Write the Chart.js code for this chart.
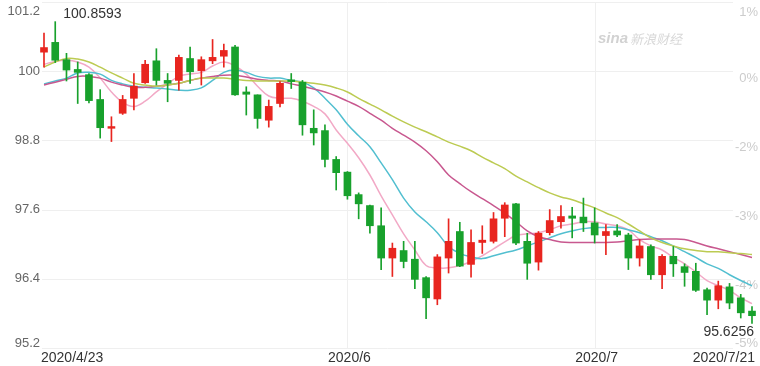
<!DOCTYPE html>
<html>
<head>
<meta charset="utf-8">
<script src="https://cdn.jsdelivr.net/npm/chart.js@4.4.1/dist/chart.umd.min.js"></script>
<style>
  html, body { margin: 0; padding: 0; background: #fff; }
</style>
</head>
<body>
<canvas id="kline" width="760" height="366"></canvas>
<script>
// trading days shown on the chart
const dates = [
  "2020/4/23", "2020/4/24", "2020/4/27", "2020/4/28", "2020/4/29", "2020/4/30",
  "2020/5/1", "2020/5/4", "2020/5/5", "2020/5/6", "2020/5/7", "2020/5/8",
  "2020/5/11", "2020/5/12", "2020/5/13", "2020/5/14", "2020/5/15",
  "2020/5/18", "2020/5/19", "2020/5/20", "2020/5/21", "2020/5/22",
  "2020/5/25", "2020/5/26", "2020/5/27", "2020/5/28", "2020/5/29",
  "2020/6/1", "2020/6/2", "2020/6/3", "2020/6/4", "2020/6/5",
  "2020/6/8", "2020/6/9", "2020/6/10", "2020/6/11", "2020/6/12",
  "2020/6/15", "2020/6/16", "2020/6/17", "2020/6/18", "2020/6/19",
  "2020/6/22", "2020/6/23", "2020/6/24", "2020/6/25", "2020/6/26",
  "2020/6/29", "2020/6/30",
  "2020/7/1", "2020/7/2", "2020/7/3", "2020/7/6", "2020/7/7", "2020/7/8",
  "2020/7/9", "2020/7/10", "2020/7/13", "2020/7/14", "2020/7/15",
  "2020/7/16", "2020/7/17", "2020/7/20", "2020/7/21"
];

const opens = [
  100.33, 100.50, 100.20, 100.03, 99.94, 99.51, 99.01, 99.27, 99.53, 99.80,
  100.18, 99.84, 99.84, 100.22, 100.01, 100.18, 100.26, 100.42, 99.64, 99.59,
  99.15, 99.44, 99.85, 99.81, 99.01, 98.97, 98.47, 98.25, 97.86, 97.67,
  97.32, 96.76, 96.89, 96.74, 96.42, 96.05, 96.76, 97.22, 96.65, 97.03,
  97.05, 97.45, 97.70, 97.05, 96.69, 97.20, 97.39, 97.49, 97.47, 97.37,
  97.15, 97.23, 97.16, 96.76, 96.96, 96.47, 96.79, 96.61, 96.53, 96.21,
  96.03, 96.26, 96.07, 95.84
];
const highs = [
  100.66, 100.8593, 100.31, 100.16, 99.96, 99.68, 99.21, 99.58, 99.96, 100.19,
  100.39, 99.96, 100.28, 100.42, 100.25, 100.55, 100.47, 100.45, 99.73, 99.59,
  99.50, 99.82, 99.96, 99.84, 99.33, 99.07, 98.52, 98.26, 97.89, 97.68,
  97.63, 97.02, 97.05, 97.05, 96.44, 96.82, 97.44, 97.38, 97.25, 97.32,
  97.55, 97.72, 97.71, 97.19, 97.22, 97.60, 97.67, 97.64, 97.80, 97.63,
  97.34, 97.34, 97.19, 97.08, 96.99, 96.82, 96.96, 96.66, 96.67, 96.24,
  96.36, 96.32, 96.13, 95.92
];
const lows = [
  100.07, 100.15, 99.83, 99.44, 99.45, 98.84, 98.78, 99.25, 99.33, 99.79,
  99.76, 99.47, 99.67, 99.79, 99.76, 100.13, 100.07, 99.58, 99.24, 99.01,
  99.03, 99.38, 99.70, 98.89, 98.72, 98.34, 97.94, 97.78, 97.44, 97.19,
  96.56, 96.44, 96.59, 96.23, 95.71, 95.95, 96.50, 96.61, 96.43, 96.84,
  97.02, 97.13, 96.99, 96.39, 96.55, 97.16, 97.28, 97.11, 97.22, 97.02,
  96.82, 97.13, 96.56, 96.62, 96.39, 96.23, 96.44, 96.27, 96.18, 95.78,
  95.88, 95.88, 95.72, 95.6256
];
const closes = [
  100.41, 100.19, 100.02, 99.98, 99.49, 99.02, 99.04, 99.51, 99.74, 100.12,
  99.84, 99.79, 100.24, 99.99, 100.20, 100.24, 100.36, 99.59, 99.60, 99.18,
  99.39, 99.79, 99.82, 99.07, 98.93, 98.47, 98.24, 97.84, 97.70, 97.32,
  96.76, 96.93, 96.70, 96.39, 96.07, 96.78, 97.05, 96.62, 97.03, 97.07,
  97.44, 97.68, 97.02, 96.67, 97.19, 97.41, 97.48, 97.45, 97.37, 97.16,
  97.22, 97.16, 96.76, 96.97, 96.47, 96.79, 96.66, 96.51, 96.20, 96.03,
  96.28, 95.98, 95.81, 95.76
];

// moving average lines as drawn
const ma5 = [
  100.12, 100.17, 100.19, 100.16, 100.07, 99.88, 99.64, 99.46, 99.39, 99.48,
  99.64, 99.78, 99.91, 99.95, 99.98, 100.09, 100.16, 100.09, 99.95, 99.74,
  99.57, 99.53, 99.53, 99.48, 99.39, 99.26, 98.98, 98.75, 98.50, 98.20,
  97.84, 97.51, 97.18, 96.90, 96.63, 96.59, 96.59, 96.63, 96.70, 96.80,
  96.92, 97.04, 97.15, 97.18, 97.20, 97.25, 97.32, 97.35, 97.39, 97.39,
  97.35, 97.32, 97.25, 97.08, 96.97, 96.90, 96.77, 96.66, 96.52, 96.37,
  96.28, 96.20, 96.07, 95.97
];
const ma10 = [
  99.78, 99.83, 99.88, 99.97, 99.98, 99.95, 99.84, 99.78, 99.74, 99.72,
  99.71, 99.69, 99.67, 99.67, 99.71, 99.84, 99.98, 100.02, 99.98, 99.91,
  99.88, 99.88, 99.84, 99.81, 99.71, 99.53, 99.33, 99.08, 98.88, 98.69,
  98.41, 98.12, 97.80, 97.56, 97.39, 97.20, 96.96, 96.84, 96.78, 96.75,
  96.80, 96.85, 96.90, 96.97, 97.04, 97.11, 97.18, 97.23, 97.27, 97.29,
  97.29, 97.29, 97.25, 97.20, 97.13, 97.06, 96.97, 96.87, 96.77, 96.66,
  96.58, 96.47, 96.37, 96.28
];
const ma20 = [
  99.76, 99.81, 99.86, 99.91, 99.91, 99.88, 99.81, 99.76, 99.72, 99.72,
  99.74, 99.76, 99.79, 99.84, 99.88, 99.91, 99.93, 99.93, 99.90, 99.86,
  99.84, 99.83, 99.78, 99.74, 99.69, 99.64, 99.57, 99.48, 99.39, 99.27,
  99.15, 99.01, 98.89, 98.77, 98.62, 98.43, 98.20, 98.05, 97.91, 97.79,
  97.67, 97.54, 97.39, 97.23, 97.13, 97.08, 97.04, 97.03, 97.03, 97.03,
  97.03, 97.04, 97.06, 97.08, 97.09, 97.09, 97.09, 97.08, 97.03, 96.97,
  96.92, 96.87, 96.82, 96.77
];
const ma30 = [
  100.07, 100.16, 100.22, 100.21, 100.16, 100.07, 99.97, 99.88, 99.79, 99.76,
  99.74, 99.76, 99.79, 99.84, 99.88, 99.88, 99.88, 99.86, 99.84, 99.83,
  99.83, 99.83, 99.83, 99.81, 99.79, 99.76, 99.71, 99.64, 99.53, 99.43,
  99.33, 99.22, 99.12, 99.03, 98.95, 98.86, 98.77, 98.70, 98.62, 98.51,
  98.41, 98.31, 98.18, 98.08, 97.98, 97.89, 97.82, 97.77, 97.70, 97.63,
  97.54, 97.46, 97.35, 97.23, 97.11, 97.03, 96.97, 96.92, 96.89, 96.87,
  96.87, 96.85, 96.84, 96.82
];

// axis ticks
const yTicks = [95.2, 96.4, 97.6, 98.8, 100, 101.2];
const yTickLabels = ["95.2", "96.4", "97.6", "98.8", "100", "101.2"];
const pctLabels = ["-5%", "-4%", "-3%", "-2%", "0%", "1%"];
const xTickIdx = [0, 27, 49, 63];
const xTickLabels = ["2020/4/23", "2020/6", "2020/7", "2020/7/21"];
const monthLineIdx = [27, 49];

const UP = "#e8251f";
const DOWN = "#18a12c";
const candleColors = closes.map(function (c, i) {
  return c >= opens[i] ? UP : DOWN;
});

const maxIdx = highs.indexOf(Math.max.apply(null, highs));
const minIdx = lows.indexOf(Math.min.apply(null, lows));

// grid, tick text, watermark and max/min notes
const decor = {
  id: "decor",
  beforeDatasetsDraw: function (chart) {
    const ctx = chart.ctx, a = chart.chartArea;
    const x = chart.scales.x, y = chart.scales.y;
    ctx.save();
    ctx.strokeStyle = "#efefef";
    ctx.lineWidth = 1;
    yTicks.forEach(function (v) {
      const py = Math.round(y.getPixelForValue(v)) + 0.5;
      ctx.beginPath();
      ctx.moveTo(a.left - 2, py);
      ctx.lineTo(a.right - 19, py);
      ctx.stroke();
    });
    monthLineIdx.forEach(function (i) {
      const px = Math.round(x.getPixelForValue(i)) + 0.5;
      ctx.beginPath();
      ctx.moveTo(px, a.top);
      ctx.lineTo(px, a.bottom);
      ctx.stroke();
    });

    ctx.font = "13px Arial, 'Liberation Sans', sans-serif";
    ctx.fillStyle = "#cccccc";
    ctx.textAlign = "right";
    ctx.textBaseline = "middle";
    yTicks.forEach(function (v, i) {
      let py = y.getPixelForValue(v) + 7;
      py = Math.max(a.top + 10, Math.min(a.bottom - 5, py));
      ctx.fillText(pctLabels[i], 758, py);
    });

    ctx.textAlign = "left";
    ctx.fillStyle = "#d2d2d2";
    ctx.font = "italic bold 15px Arial, 'Liberation Sans', sans-serif";
    ctx.fillText("sina", 598, 39);
    ctx.fillStyle = "#d8d8d8";
    ctx.font = "italic 13px 'Noto Sans CJK SC', sans-serif";
    ctx.fillText("新浪财经", 630, 39);
    ctx.restore();
  },
  afterDraw: function (chart) {
    const ctx = chart.ctx, a = chart.chartArea;
    const x = chart.scales.x, y = chart.scales.y;
    ctx.save();
    ctx.font = "13px Arial, 'Liberation Sans', sans-serif";
    ctx.fillStyle = "#666666";
    ctx.textAlign = "right";
    ctx.textBaseline = "middle";
    yTicks.forEach(function (v, i) {
      let py = y.getPixelForValue(v);
      py = Math.max(a.top + 9, Math.min(a.bottom - 5, py));
      ctx.fillText(yTickLabels[i], 40, py);
    });

    ctx.font = "14px Arial, 'Liberation Sans', sans-serif";
    ctx.fillStyle = "#333333";
    xTickIdx.forEach(function (idx, i) {
      const px = x.getPixelForValue(idx);
      ctx.textAlign = i === 0 ? "left" : (i === xTickIdx.length - 1 ? "right" : "center");
      const shift = i === 0 ? -3 : (i === xTickIdx.length - 1 ? 3 : 2);
      ctx.fillText(xTickLabels[i], px + shift, 358);
    });

    ctx.fillStyle = "#333333";
    ctx.textAlign = "left";
    ctx.fillText(highs[maxIdx].toFixed(4), x.getPixelForValue(maxIdx) + 8, y.getPixelForValue(highs[maxIdx]) - 8);
    ctx.textAlign = "right";
    ctx.fillText(lows[minIdx].toFixed(4), x.getPixelForValue(minIdx) + 2, y.getPixelForValue(lows[minIdx]) + 9);
    ctx.restore();
  }
};

function maLine(data, color) {
  return {
    type: "line",
    data: data,
    borderColor: color,
    borderWidth: 1.5,
    pointRadius: 0,
    tension: 0.4,
    fill: false,
    order: 3
  };
}

new Chart(document.getElementById("kline").getContext("2d"), {
  type: "bar",
  data: {
    labels: dates,
    datasets: [
      maLine(ma30, "#bccb52"),
      maLine(ma20, "#c8588f"),
      maLine(ma10, "#52bfd0"),
      maLine(ma5, "#f2a9c6"),
      {
        data: lows.map(function (l, i) { return [l, highs[i]]; }),
        backgroundColor: candleColors,
        barThickness: 1,
        grouped: false,
        clip: false,
        order: 2
      },
      {
        data: opens.map(function (o, i) { return [o, closes[i]]; }),
        backgroundColor: candleColors,
        barThickness: 7,
        minBarLength: 1,
        grouped: false,
        clip: false,
        order: 1
      }
    ]
  },
  options: {
    responsive: false,
    animation: false,
    layout: { padding: { left: 44, right: 8, top: 2, bottom: 18 } },
    scales: {
      x: { type: "category", display: false, offset: false },
      y: { display: false, min: 95.2, max: 101.2 }
    },
    plugins: {
      legend: { display: false },
      tooltip: { enabled: false }
    }
  },
  plugins: [decor]
});
</script>
</body>
</html>
